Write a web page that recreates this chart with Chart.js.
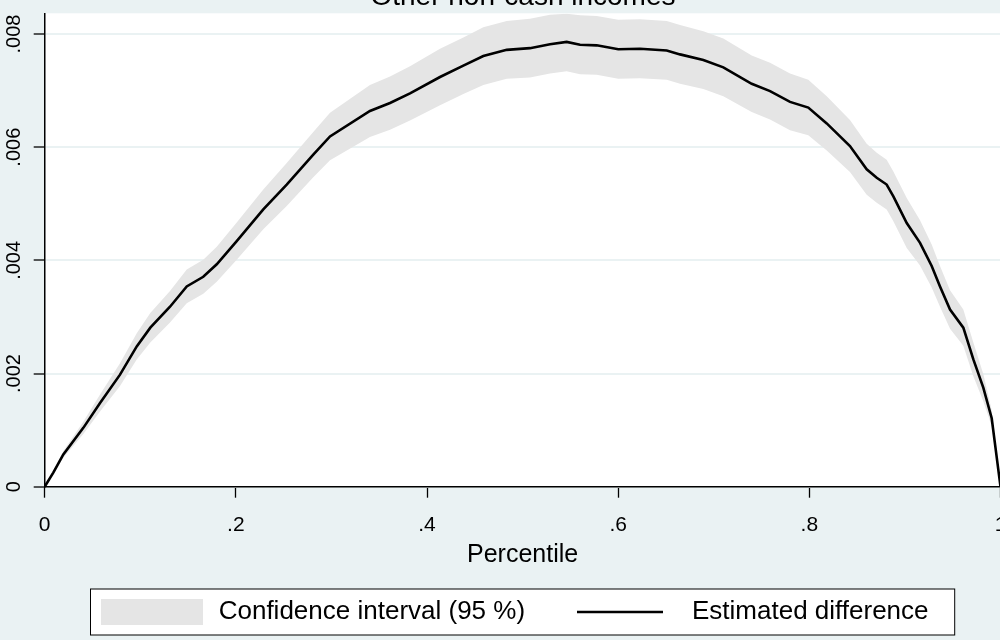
<!DOCTYPE html>
<html>
<head>
<meta charset="utf-8">
<script src="https://cdn.jsdelivr.net/npm/chart.js@4.4.1/dist/chart.umd.min.js"></script>
<style>
  html, body { margin: 0; padding: 0; background: #eaf2f3; overflow: hidden; }
  #wrap { position: absolute; left: 0; top: -30px; width: 1025px; height: 670px; }
</style>
</head>
<body>
<div id="wrap"><canvas id="chart"></canvas></div>
<script>
// quantile difference curve with its 95 % band
const percentile = [0, .009, .0195, .0404, .0579, .0788, .0963, .1105, .1311, .1486,
  .1659, .18, .2009, .2287, .2532, .281, .2985, .3403, .3613, .3822,
  .4136, .438, .4589, .4834, .5077, .5287, .5461, .5601, .5775, .6001,
  .6228, .6508, .6647, .6891, .71, .7397, .7589, .7798, .7989, .8182,
  .8425, .86, .8705, .8809, .8879, .9019, .9158, .928, .9367, .9472,
  .9611, .9716, .982, .9908, 1];
const estimate = [0, .00025, .00057, .00104, .00148, .00198, .00248, .00281, .00318, .00354,
  .00371, .00393, .00434, .0049, .00534, .00587, .00619, .00664, .00678, .00695,
  .00724, .00744, .00761, .00772, .00775, .00782, .00786, .00781, .0078, .00773,
  .00774, .00771, .00764, .00754, .00741, .00712, .00699, .0068, .0067, .00642,
  .00602, .00561, .00546, .00534, .00513, .00466, .00431, .0039, .00354, .00313,
  .00281, .00225, .00175, .00121, 0];
const ciLow = [0, .00022, .00051, .00093, .00133, .00178, .00225, .00255, .0029, .00324,
  .00341, .00362, .00401, .00455, .00496, .00547, .00577, .00618, .00631, .00647,
  .00674, .00694, .0071, .00721, .00723, .0073, .00734, .00729, .00728, .00721,
  .00722, .00719, .00712, .00703, .0069, .00662, .00649, .0063, .00621, .00594,
  .00556, .00516, .00502, .0049, .00469, .00422, .00391, .00352, .00318, .00279,
  .00249, .00195, .00151, .00107, 0];
const ciHigh = [0, .00028, .00063, .00115, .00163, .00218, .00271, .00307, .00346, .00384,
  .00401, .00424, .00467, .00525, .00572, .00627, .00661, .0071, .00725, .00743,
  .00774, .00794, .00812, .00823, .00827, .00834, .00836, .00833, .00832, .00825,
  .00826, .00823, .00816, .00805, .00792, .00762, .00749, .0073, .00719, .0069,
  .00648, .00606, .0059, .00578, .00557, .0051, .00471, .00428, .0039, .00347,
  .00313, .00255, .00199, .00135, 0];

const xTicks = [0, 0.2, 0.4, 0.6, 0.8, 1];
const xTickLabels = ['0', '.2', '.4', '.6', '.8', '1'];
const yTicks = [0, 0.002, 0.004, 0.006, 0.008];
const yTickLabels = ['0', '.002', '.004', '.006', '.008'];
const yMax = 0.008366;

const titleText = 'Other non-cash incomes';
const bandColor = '#e5e5e5';
const gridColor = '#eaf2f3';

const toPoints = (xs, ys) => xs.map((x, i) => ({ x: x, y: ys[i] }));

Chart.defaults.font.family = "'Liberation Sans', Arial, sans-serif";
Chart.defaults.color = '#000';

// white plot region on the tinted graph background
const plotRegion = {
  id: 'plotRegion',
  beforeDraw(chart) {
    const { ctx, chartArea: a } = chart;
    ctx.save();
    ctx.fillStyle = '#fff';
    ctx.fillRect(a.left, a.top, a.right - a.left, a.bottom - a.top);
    ctx.restore();
  }
};

const graphTitle = {
  id: 'graphTitle',
  afterDraw(chart) {
    const ctx = chart.ctx;
    ctx.save();
    ctx.font = "28px 'Liberation Sans', Arial, sans-serif";
    ctx.fillStyle = '#000';
    ctx.textAlign = 'center';
    ctx.textBaseline = 'alphabetic';
    ctx.fillText(titleText, 523, 35);
    ctx.restore();
  }
};

// framed legend row under the axis title
const boxedLegend = {
  id: 'boxedLegend',
  afterDraw(chart) {
    const ctx = chart.ctx;
    const band = chart.data.datasets[0];
    const line = chart.data.datasets[2];
    const left = 90.5, right = 954.7, top = 619, height = 46;
    const mid = top + height / 2;
    ctx.save();
    ctx.fillStyle = '#fff';
    ctx.fillRect(left, top, right - left, height);
    ctx.strokeStyle = '#000';
    ctx.lineWidth = 1;
    ctx.strokeRect(left, top, right - left, height);

    ctx.fillStyle = band.backgroundColor;
    ctx.fillRect(101, mid - 13, 102, 26);

    ctx.beginPath();
    ctx.moveTo(577, mid);
    ctx.lineTo(663, mid);
    ctx.strokeStyle = line.borderColor;
    ctx.lineWidth = line.borderWidth;
    ctx.stroke();

    ctx.font = "26px 'Liberation Sans', Arial, sans-serif";
    ctx.fillStyle = '#000';
    ctx.textAlign = 'left';
    ctx.textBaseline = 'middle';
    ctx.fillText(band.label, 218.7, mid);
    ctx.fillText(line.label, 692, mid);
    ctx.restore();
  }
};

new Chart(document.getElementById('chart').getContext('2d'), {
  type: 'line',
  data: {
    datasets: [
      {
        label: 'Confidence interval (95 %)',
        data: toPoints(percentile, ciHigh),
        fill: '+1',
        backgroundColor: bandColor,
        borderColor: 'rgba(0,0,0,0)',
        borderWidth: 0,
        pointRadius: 0,
        order: 2
      },
      {
        label: 'lower bound',
        data: toPoints(percentile, ciLow),
        fill: false,
        borderColor: 'rgba(0,0,0,0)',
        borderWidth: 0,
        pointRadius: 0,
        order: 3
      },
      {
        label: 'Estimated difference',
        data: toPoints(percentile, estimate),
        fill: false,
        borderColor: '#000',
        borderWidth: 2.6,
        pointRadius: 0,
        tension: 0,
        order: 1
      }
    ]
  },
  options: {
    responsive: true,
    maintainAspectRatio: false,
    animation: false,
    layout: {
      padding: { top: 43.3, right: 24.5, bottom: 69.6, left: 0 }
    },
    plugins: {
      legend: { display: false },
      title: { display: false },
      tooltip: { enabled: false }
    },
    scales: {
      x: {
        type: 'linear',
        min: 0,
        max: 1,
        afterBuildTicks: s => { s.ticks = xTicks.map(v => ({ value: v })); },
        afterFit: s => { s.height = 83.7; },
        border: { color: '#000', width: 1.5 },
        grid: {
          drawOnChartArea: false,
          drawTicks: true,
          tickLength: 11,
          tickColor: '#000',
          tickWidth: 1.3
        },
        ticks: {
          font: { size: 21 },
          padding: 15,
          maxRotation: 0,
          autoSkip: false,
          callback: (v, i) => xTickLabels[i]
        },
        title: {
          display: true,
          text: 'Percentile',
          font: { size: 25 },
          padding: 0
        }
      },
      y: {
        type: 'linear',
        min: 0,
        max: yMax,
        afterBuildTicks: s => { s.ticks = yTicks.map(v => ({ value: v })); },
        afterFit: s => { s.width = 44.7; },
        border: { color: '#000', width: 1.5 },
        grid: {
          color: gridColor,
          lineWidth: 2,
          drawTicks: true,
          tickLength: 11,
          tickColor: '#000',
          tickWidth: 1.3
        },
        ticks: {
          font: { size: 20 },
          padding: 0,
          minRotation: 90,
          maxRotation: 90,
          crossAlign: 'center',
          autoSkip: false,
          callback: (v, i) => yTickLabels[i]
        }
      }
    }
  },
  plugins: [plotRegion, graphTitle, boxedLegend]
});
</script>
</body>
</html>
